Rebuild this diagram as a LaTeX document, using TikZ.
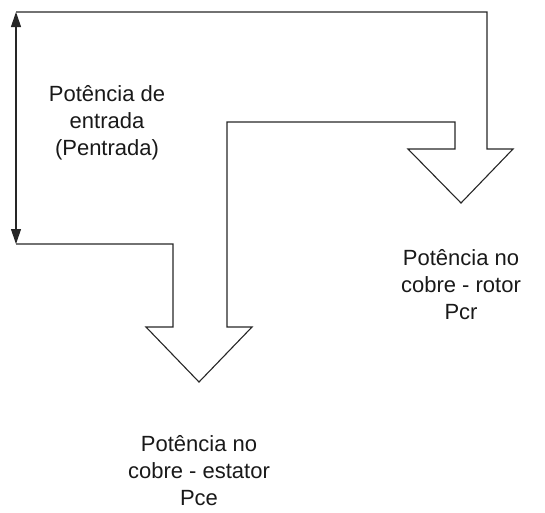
\documentclass[tikz,border=0pt]{standalone}
\usepackage{fontspec}
\setmainfont{Liberation Sans}
\usetikzlibrary{arrows.meta}
\begin{document}
\begin{tikzpicture}[x=1pt,y=-1pt,
  flow/.style={draw=black!85,line width=1.1pt,line join=miter},
  lbl/.style={align=center,font=\fontsize{22}{27}\selectfont,text=black!90,inner sep=0pt}]
\useasboundingbox (0,0) rectangle (545,512);
% named corner coordinates
\coordinate (tl) at (16,12);
\coordinate (bl) at (16,244);
% split arrow outline
\draw[flow] (tl) -- (487,12) -- (487,149) -- (513,149) -- (461,203) -- (408,149)
  -- (455,149) -- (455,122) -- (227,122) -- (227,327) -- (252,327) -- (199,382)
  -- (146,327) -- (173,327) -- (173,244) -- (bl);
% input power double arrow
\draw[flow,{Triangle[length=15pt,width=10pt]}-{Triangle[length=15pt,width=10pt]}] (tl) -- (bl);
% labels
\node[lbl] (pin) at (107,123) {Potência de\\entrada\\(Pentrada)};
\node[lbl] (pcr) at (461,285) {Potência no\\cobre - rotor\\Pcr};
\node[lbl] (pce) at (199,471) {Potência no\\cobre - estator\\Pce};
\end{tikzpicture}
\end{document}
